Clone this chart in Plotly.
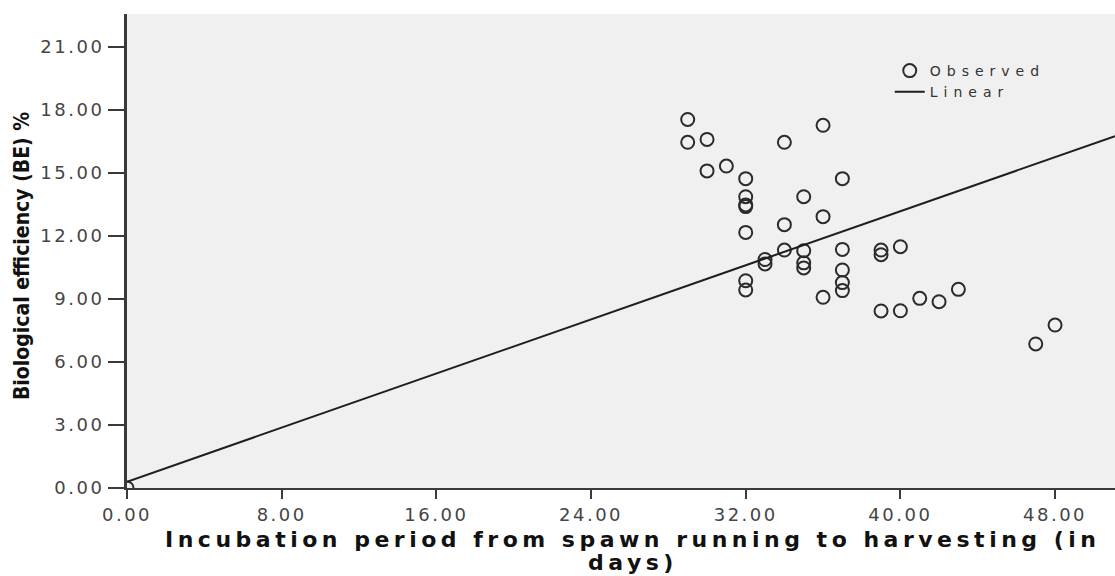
import plotly.graph_objects as go

# Observed incubation period (days) and biological efficiency (%)
incubation_days = [
    0,
    29, 29,
    30, 30,
    31,
    32, 32, 32, 32, 32, 32, 32,
    33, 33,
    34, 34, 34,
    35, 35, 35, 35,
    36, 36, 36,
    37, 37, 37, 37, 37,
    39, 39, 39,
    40, 40,
    41, 42, 43, 47, 48,
]
biological_efficiency = [
    0.0,
    17.55, 16.46,
    16.60, 15.10,
    15.33,
    14.73, 13.87, 13.48, 13.40, 12.17, 9.87, 9.43,
    10.88, 10.67,
    16.46, 12.54, 11.33,
    13.87, 11.30, 10.72, 10.48,
    17.27, 12.92, 9.08,
    14.73, 11.36, 10.38, 9.78, 9.40,
    11.33, 11.11, 8.43,
    11.49, 8.44,
    9.03, 8.87, 9.46, 6.86, 7.76,
]

# Linear model (intercept, slope)
fit_intercept = 0.30
fit_slope = 0.322

x_tick_values = [0, 8, 16, 24, 32, 40, 48]
y_tick_values = [0, 3, 6, 9, 12, 15, 18, 21]
x_limit = 51.1
y_limit = 22.57

x_title_lines = ["Incubation period from spawn running to harvesting (in", "days)"]
y_title = "Biological efficiency (BE) %"


def spaced(text, px):
    return f"<span style='letter-spacing:{px}px'>{text}</span>"


AXIS_COLOR = "#3a3a3a"
TICK_FONT = dict(family="DejaVu Sans", size=18, color="#454545")

line_x = [0, x_limit]
line_y = [fit_intercept + fit_slope * v for v in line_x]

fig = go.Figure()
fig.add_trace(go.Scatter(
    x=incubation_days, y=biological_efficiency,
    mode="markers", name=spaced("Observed", 6),
    marker=dict(symbol="circle-open", size=13, color="#2b2b2b",
                line=dict(width=2, color="#2b2b2b")),
    cliponaxis=True,
))
fig.add_trace(go.Scatter(
    x=line_x, y=line_y, mode="lines", name=spaced("Linear", 6),
    line=dict(color="#1e1e1e", width=2),
))

fig.update_layout(
    width=1115, height=576,
    margin=dict(l=127, r=0, t=14, b=88),
    paper_bgcolor="white",
    plot_bgcolor="#f0f0f0",
    showlegend=True,
    legend=dict(
        x=0.772, y=0.9135, xanchor="left", yanchor="top",
        bgcolor="rgba(0,0,0,0)", borderwidth=0,
        font=dict(family="DejaVu Sans", size=14, color="#333333"),
        tracegroupgap=0,
    ),
    xaxis=dict(
        range=[0, x_limit], showgrid=False, zeroline=False,
        showline=True, linecolor=AXIS_COLOR, linewidth=2,
        ticks="outside", ticklen=9, tickwidth=2, tickcolor=AXIS_COLOR,
        tickmode="array", tickvals=x_tick_values,
        ticktext=[spaced(f"{v:.2f}", 2.5) for v in x_tick_values],
        tickfont=TICK_FONT,
    ),
    yaxis=dict(
        range=[0, y_limit], showgrid=False, zeroline=False,
        showline=True, linecolor=AXIS_COLOR, linewidth=3,
        ticks="outside", ticklen=16, tickwidth=2, tickcolor=AXIS_COLOR,
        tickmode="array", tickvals=y_tick_values,
        ticktext=[spaced(f"{v:.2f}", 2.5) for v in y_tick_values],
        tickfont=TICK_FONT,
    ),
)

title_font = dict(family="DejaVu Sans", size=22, color="#111111", weight="bold")
fig.add_annotation(
    text=spaced(x_title_lines[0], 4.5), xref="paper", yref="paper",
    x=0.512, y=-0.1097, xanchor="center", yanchor="middle",
    showarrow=False, font=title_font,
)
fig.add_annotation(
    text=spaced(x_title_lines[1], 4.5), xref="paper", yref="paper",
    x=0.512, y=-0.1582, xanchor="center", yanchor="middle",
    showarrow=False, font=title_font,
)
fig.add_annotation(
    text=y_title, xref="paper", yref="paper",
    x=-0.107, y=0.49, xanchor="center", yanchor="middle", textangle=-90,
    showarrow=False,
    font=dict(family="Liberation Sans Narrow, DejaVu Sans Condensed, Arial Narrow, sans-serif",
              size=21, color="#111111", weight="bold"),
)

fig.write_html("out.html")
